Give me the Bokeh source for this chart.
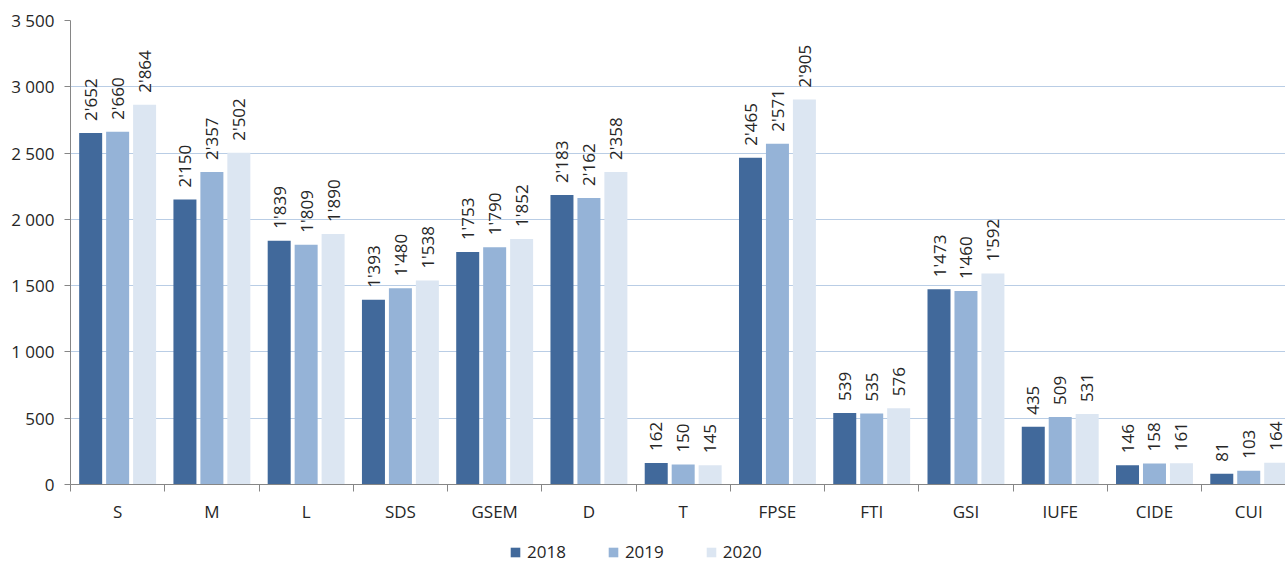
import math
from bokeh.plotting import figure
from bokeh.layouts import column
from bokeh.models import (ColumnDataSource, Range1d, FixedTicker, Legend, LegendItem,
                          CustomJSTickFormatter)
from bokeh.core.properties import value
from bokeh.embed import file_html
from bokeh.resources import INLINE

categories = ["S", "M", "L", "SDS", "GSEM", "D", "T", "FPSE", "FTI", "GSI", "IUFE", "CIDE", "CUI"]
years = ["2018", "2019", "2020"]
v2018 = [2652, 2150, 1839, 1393, 1753, 2183, 162, 2465, 539, 1473, 435, 146, 81]
v2019 = [2660, 2357, 1809, 1480, 1790, 2162, 150, 2571, 535, 1460, 509, 158, 103]
v2020 = [2864, 2502, 1890, 1538, 1852, 2358, 145, 2905, 576, 1592, 531, 161, 164]
y_ticks = [0, 500, 1000, 1500, 2000, 2500, 3000, 3500]

colors = ["#41699B", "#95B3D7", "#DCE6F2"]
FONT = "Open Sans"
TXT = "#262626"

def fmt(v):
    return f"{v:,}".replace(",", "'")

p = figure(width=1285, height=525, output_backend="svg", toolbar_location=None,
           x_range=Range1d(-0.5, -0.5 + 12.89), y_range=Range1d(0, 3500),
           min_border_left=70, min_border_top=20, min_border_right=0, min_border_bottom=39)
p.outline_line_color = None
p.background_fill_color = "white"

step = 0.286
bw = 0.244
for k, (yr, vals) in enumerate(zip(years, [v2018, v2019, v2020])):
    src = ColumnDataSource(dict(
        x=[i + (k - 1) * step for i in range(len(categories))],
        top=vals,
        label=[fmt(v) for v in vals],
    ))
    p.vbar(x="x", top="top", width=bw, bottom=0, source=src,
           fill_color=colors[k], line_color=None)
    p.text(x="x", y="top", text="label", source=src, angle=math.pi / 2,
           text_align="left", text_baseline="middle", y_offset=-12,
           text_font=value(FONT), text_font_size="17px", text_color=TXT)

# x axis
xa = p.xaxis[0]
xa.ticker = FixedTicker(ticks=list(range(len(categories))),
                        minor_ticks=[i - 0.5 for i in range(len(categories) + 1)])
xa.major_label_overrides = {i: c for i, c in enumerate(categories)}
xa.major_tick_line_color = None
xa.major_tick_out = 0
xa.major_tick_in = 0
xa.minor_tick_line_color = "#868686"
xa.minor_tick_out = 7
xa.minor_tick_in = 0
xa.axis_line_color = "#868686"
xa.major_label_text_font = FONT
xa.major_label_text_font_size = "17px"
xa.major_label_text_color = TXT
xa.major_label_standoff = 8

# y axis
ya = p.yaxis[0]
ya.ticker = FixedTicker(ticks=y_ticks)
ya.formatter = CustomJSTickFormatter(code="return tick >= 1000 ? Math.floor(tick/1000) + ' ' + String(tick % 1000).padStart(3,'0') : String(tick);")
ya.major_tick_line_color = "#868686"
ya.major_tick_out = 6
ya.major_tick_in = 0
ya.minor_tick_line_color = None
ya.axis_line_color = "#868686"
ya.major_label_text_font = FONT
ya.major_label_text_font_size = "17px"
ya.major_label_text_color = TXT
ya.major_label_standoff = 10

p.xgrid.grid_line_color = None
p.ygrid.ticker = FixedTicker(ticks=y_ticks[1:])
p.ygrid.grid_line_color = "#B9CDE5"

# legend strip (separate figure so that it is not clipped by the chart frame)
lf = figure(width=1285, height=38, output_backend="svg", toolbar_location=None,
            x_axis_type=None, y_axis_type=None, x_range=Range1d(0, 1), y_range=Range1d(0, 1),
            min_border_left=0, min_border_right=0, min_border_top=0, min_border_bottom=0)
lf.outline_line_color = None
lf.xgrid.grid_line_color = None
lf.ygrid.grid_line_color = None
proxies = []
for k, yr in enumerate(years):
    # legend proxy placed outside the visible range of the legend strip
    r = lf.vbar(x=[-5], top=[-5], bottom=[-6], width=0.1, fill_color=colors[k], line_color=None)
    proxies.append(LegendItem(label=yr, renderers=[r]))
legend = Legend(items=proxies, orientation="horizontal", location=(439, 0))
legend.label_text_font = FONT
legend.label_text_font_size = "17px"
legend.label_text_color = TXT
legend.label_height = 20
legend.glyph_width = 12
legend.glyph_height = 12
legend.label_standoff = 6
legend.spacing = 41
legend.padding = 0
legend.margin = 0
legend.border_line_color = None
legend.background_fill_alpha = 0
lf.add_layout(legend, "center")

layout = column(p, lf, spacing=0)
open("out.html", "w").write(file_html(layout, INLINE))
